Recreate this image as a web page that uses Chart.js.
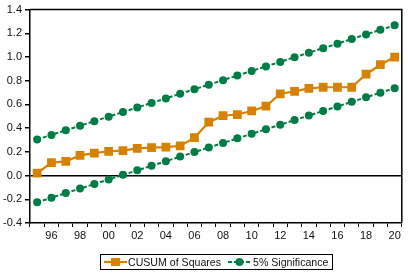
<!DOCTYPE html>
<html>
<head>
<meta charset="utf-8">
<script src="https://cdn.jsdelivr.net/npm/chart.js@4/dist/chart.umd.min.js"></script>
<style>
  html, body { margin: 0; padding: 0; background: #fff; }
  #wrap { position: relative; width: 408px; height: 276px; }
  #legend { position: absolute; left: 100px; top: 254px; width: 233px; height: 16px;
    border: 1px solid #000; box-sizing: border-box; font: 10.6px "Liberation Sans", Arial, sans-serif;
    color: #111; display: flex; align-items: center; white-space: nowrap; }
  #legend span.item { display: inline-flex; align-items: center; }
  #legend svg { display: block; }
</style>
</head>
<body>
<div id="wrap">
  <canvas id="c" width="408" height="276"></canvas>
  <div id="legend"></div>
</div>
<script>
const years = ['95','96','97','98','99','00','01','02','03','04','05','06','07','08','09','10','11','12','13','14','15','16','17','18','19','20'];
const cusumSq = [0.02,0.11,0.12,0.17,0.19,0.205,0.21,0.23,0.235,0.24,0.25,0.32,0.45,0.505,0.515,0.545,0.585,0.69,0.71,0.735,0.745,0.745,0.745,0.855,0.935,1.0];
const upper = [0.305,0.343,0.382,0.420,0.459,0.497,0.536,0.574,0.613,0.651,0.690,0.728,0.767,0.805,0.844,0.882,0.921,0.959,0.998,1.036,1.075,1.113,1.152,1.190,1.229,1.267];
const lower = [-0.225,-0.187,-0.148,-0.110,-0.071,-0.033,0.006,0.044,0.083,0.121,0.160,0.198,0.237,0.275,0.314,0.352,0.391,0.429,0.468,0.506,0.545,0.583,0.622,0.660,0.699,0.737];
const yTicks = [-0.4,-0.2,0.0,0.2,0.4,0.6,0.8,1.0,1.2,1.4];
const seriesNames = ['CUSUM of Squares', '5% Significance'];

const ORANGE = 'rgb(214,130,0)';
const GREEN = 'rgb(0,125,70)';
const FONT = { family: '"Liberation Sans", Arial, sans-serif', size: 11 };

const frame = {
  id: 'frame',
  afterDraw(chart) {
    const { ctx, chartArea: a } = chart;
    ctx.save();
    ctx.strokeStyle = '#000';
    ctx.lineWidth = 1.5;
    ctx.beginPath();
    ctx.moveTo(a.left, a.top); ctx.lineTo(a.right, a.top); ctx.lineTo(a.right, a.bottom);
    ctx.stroke();
    ctx.restore();
  }
};

new Chart(document.getElementById('c'), {
  type: 'line',
  data: {
    labels: years,
    datasets: [
      { label: seriesNames[0], data: cusumSq, borderColor: ORANGE, backgroundColor: ORANGE,
        borderWidth: 2.2, pointStyle: 'rect', pointRadius: 6.2, pointBorderWidth: 0, tension: 0 },
      { label: seriesNames[1], data: upper, borderColor: GREEN, backgroundColor: GREEN,
        borderWidth: 2, borderDash: [4, 2], pointStyle: 'circle', pointRadius: 4, pointBorderWidth: 0, tension: 0 },
      { label: seriesNames[1] + ' lower', data: lower, borderColor: GREEN, backgroundColor: GREEN,
        borderWidth: 2, borderDash: [4, 2], pointStyle: 'circle', pointRadius: 4, pointBorderWidth: 0, tension: 0 }
    ]
  },
  options: {
    responsive: false,
    animation: false,
    devicePixelRatio: 1,
    layout: { padding: { left: 0, top: 8, right: 3, bottom: 33 } },
    plugins: { legend: { display: false }, tooltip: { enabled: false } },
    scales: {
      x: {
        offset: true,
        afterFit(s) { s.height = 20; },
        grid: { offset: true, drawOnChartArea: false, drawTicks: true, tickLength: 4, tickColor: '#000', lineWidth: 1 },
        border: { display: true, color: '#000', width: 1.5 },
        ticks: {
          autoSkip: false, maxRotation: 0, padding: 2, color: '#111', font: FONT,
          callback(v, i) { const l = years[i]; return (parseInt(l, 10) % 2 === 0) ? l : ''; }
        }
      },
      y: {
        min: yTicks[0], max: yTicks[yTicks.length - 1],
        afterFit(s) { s.width = 30; },
        afterBuildTicks(s) { s.ticks = yTicks.map(v => ({ value: v })); },
        grid: {
          drawOnChartArea: true, drawTicks: true, tickLength: 5, tickColor: '#000',
          color(ctx) { return ctx.tick && Math.abs(ctx.tick.value) < 1e-9 ? '#000' : 'rgba(0,0,0,0)'; },
          lineWidth: 1.5
        },
        border: { display: true, color: '#000', width: 1.5 },
        ticks: { padding: 3, color: '#111', font: FONT, callback(v) { return Number(v).toFixed(1); } }
      }
    }
  },
  plugins: [frame]
});

// Legend (HTML)
function sym(color, shape) {
  const mark = shape === 'rect'
    ? `<rect x="7" y="3" width="9" height="8" fill="${color}"/>`
    : `<circle cx="11.5" cy="7" r="4" fill="${color}"/>`;
  const line = shape === 'rect'
    ? `<line x1="0" y1="7" x2="23" y2="7" stroke="${color}" stroke-width="2.2"/>`
    : `<line x1="0" y1="7" x2="23" y2="7" stroke="${color}" stroke-width="2" stroke-dasharray="4 2"/>`;
  return `<svg width="23" height="14">${line}${mark}</svg>`;
}
document.getElementById('legend').innerHTML =
  `<span class="item" style="margin-left:3px">${sym(ORANGE,'rect')}<span style="margin-left:1px">${seriesNames[0]}</span></span>` +
  `<span class="item" style="margin-left:7px">${sym(GREEN,'circle')}<span style="margin-left:2px">${seriesNames[1]}</span></span>`;
</script>
</body>
</html>
